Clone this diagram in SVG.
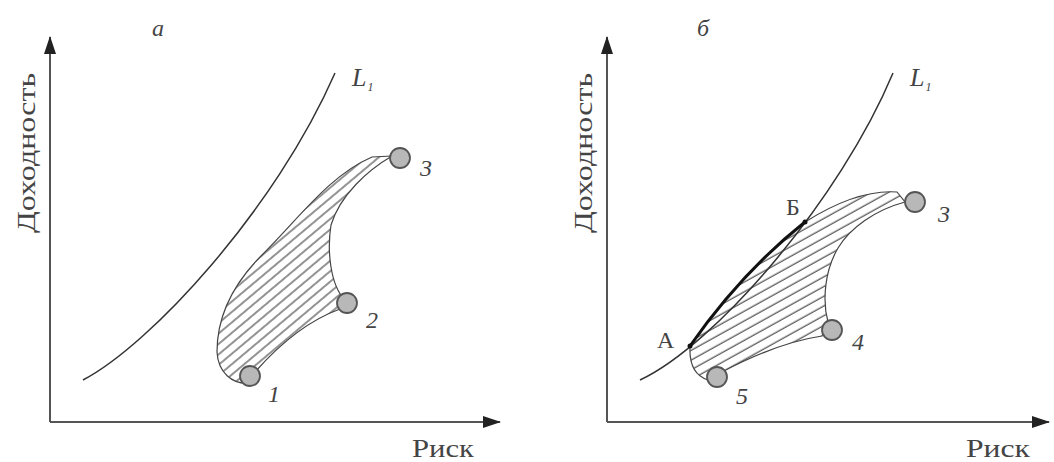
<svg xmlns="http://www.w3.org/2000/svg" width="1054" height="462" viewBox="0 0 1054 462">
<defs>
<style>
.axis{stroke:#555;stroke-width:2;fill:none}
.curve{stroke:#333;stroke-width:1.5;fill:none}
.region{stroke:#444;stroke-width:1.2}
.pt{fill:#b8b8b8;stroke:#555;stroke-width:1.8}
.lbl{font-family:"Liberation Serif",serif;fill:#444}
.num{font-family:"Liberation Serif",serif;font-style:italic;fill:#444}
</style>
<marker id="arr" markerWidth="18" markerHeight="12" refX="17" refY="6" orient="auto" markerUnits="userSpaceOnUse">
<path d="M0,0 L18,6 L0,12 Z" fill="#222"/>
</marker>
<pattern id="hatchA" width="8" height="8" patternUnits="userSpaceOnUse" patternTransform="rotate(-40)">
<line x1="0" y1="4" x2="8" y2="4" stroke="#3a3a3a" stroke-width="1.1"/>
</pattern>
<pattern id="hatchB" width="8.5" height="8.5" patternUnits="userSpaceOnUse" patternTransform="rotate(-29)">
<line x1="0" y1="4" x2="8.5" y2="4" stroke="#3a3a3a" stroke-width="1.1"/>
</pattern>
</defs>
<rect width="1054" height="462" fill="#fff"/>

<g id="panel-a">
<text class="num" x="152" y="36" font-size="24">а</text>
<g id="axes-a">
<line class="axis" x1="50" y1="422" x2="50" y2="37" marker-end="url(#arr)"/>
<line class="axis" x1="50" y1="422" x2="500" y2="422" marker-end="url(#arr)"/>
<text class="lbl" font-size="26" transform="translate(35,233) rotate(-90)" textLength="160" lengthAdjust="spacingAndGlyphs">Доходность</text>
<text class="lbl" font-size="26" x="412" y="457" textLength="62" lengthAdjust="spacingAndGlyphs">Риск</text>
</g>
<g id="L1-a">
<path class="curve" d="M83,380 C150,345 275,210 335,73"/>
<text class="num" x="352" y="86" font-size="26">L<tspan font-size="12" dx="1" dy="5">1</tspan></text>
</g>
<g id="set-a">
<path class="region" fill="url(#hatchA)" d="M250,383 C232,385 218,372 217,352 C217,318 232,285 262,255 C300,217 330,175 372,157 L392,156 C368,170 340,195 331,225 C327,250 330,285 345,300 L340,309 C315,318 285,338 255,372 Z"/>
</g>
<g id="node-1"><circle class="pt" cx="250" cy="376" r="10"/><text class="num" x="268" y="402" font-size="24">1</text></g>
<g id="node-2"><circle class="pt" cx="347" cy="303" r="10"/><text class="num" x="366" y="328" font-size="24">2</text></g>
<g id="node-3"><circle class="pt" cx="400" cy="158" r="10"/><text class="num" x="420" y="176" font-size="24">3</text></g>
</g>

<g id="panel-b">
<text class="num" x="697" y="36" font-size="24">б</text>
<g id="axes-b">
<line class="axis" x1="607" y1="422" x2="607" y2="37" marker-end="url(#arr)"/>
<line class="axis" x1="607" y1="422" x2="1049" y2="422" marker-end="url(#arr)"/>
<text class="lbl" font-size="26" transform="translate(592,233) rotate(-90)" textLength="160" lengthAdjust="spacingAndGlyphs">Доходность</text>
<text class="lbl" font-size="26" x="966" y="457" textLength="64" lengthAdjust="spacingAndGlyphs">Риск</text>
</g>
<g id="set-b">
<path class="region" fill="url(#hatchB)" d="M690,346 Q742,272 805,222 C840,200 870,190 897,192 L905,202 C875,210 850,228 838,248 C825,270 822,300 828,322 L822,336 C795,340 760,352 722,372 L708,380 C695,376 689,365 690,346 Z"/>
</g>
<g id="L1-b">
<path class="curve" d="M640,380 C715,345 840,200 893,73"/>
<text class="num" x="910" y="86" font-size="26">L<tspan font-size="12" dx="1" dy="5">1</tspan></text>
</g>
<g id="segment-AB">
<path d="M690,346 Q742,272 805,222" fill="none" stroke="#111" stroke-width="3"/>
<circle cx="690" cy="346" r="2.5" fill="#111"/>
<circle cx="805" cy="222" r="2.5" fill="#111"/>
<text class="lbl" font-size="24" x="657" y="348">А</text>
<text class="lbl" font-size="24" x="786" y="215">Б</text>
</g>
<g id="node-3b"><circle class="pt" cx="915" cy="202" r="10"/><text class="num" x="938" y="222" font-size="24">3</text></g>
<g id="node-4"><circle class="pt" cx="832" cy="330" r="10"/><text class="num" x="852" y="350" font-size="24">4</text></g>
<g id="node-5"><circle class="pt" cx="717" cy="377" r="10"/><text class="num" x="736" y="404" font-size="24">5</text></g>
</g>
</svg>
